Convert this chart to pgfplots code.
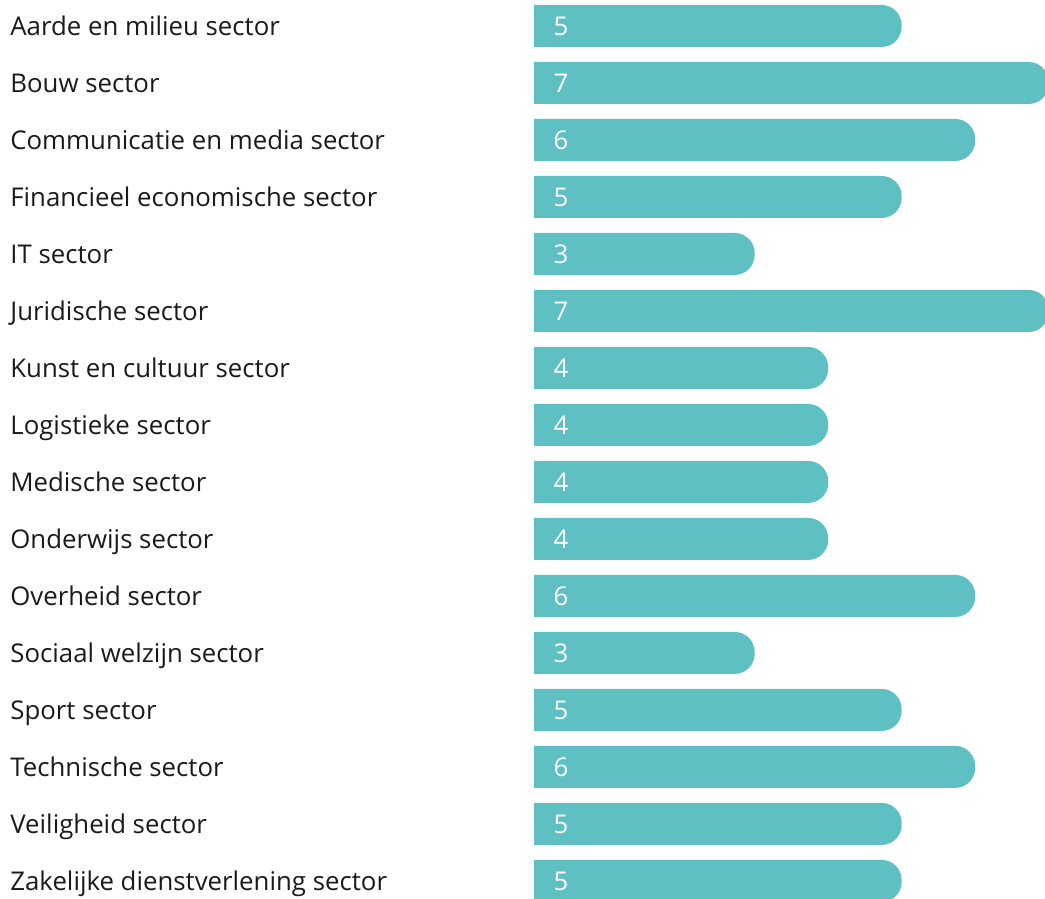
\documentclass[border=0pt]{standalone}
\usepackage{pgfplots}
\pgfplotsset{compat=1.18}
\usepackage{pgfplotstable}
\usepackage{fontspec}
\setmainfont{Open Sans}
\definecolor{barteal}{HTML}{5EC0C2}
\definecolor{labelgray}{HTML}{1A1A1A}

% idx = row from the top, v = count
\pgfplotstableread{
idx v
0 5
1 7
2 6
3 5
4 3
5 7
6 4
7 4
8 4
9 4
10 6
11 3
12 5
13 6
14 5
15 5
}\sectordata

\begin{document}
\begin{tikzpicture}
% bars are plotted at v+1 from 0; the first unit (with the rounded left end) is clipped away
\begin{scope}
\clip (-240pt,-10pt) rectangle (-10pt,460pt)
      (36.75pt,-10pt) rectangle (300pt,460pt);
\begin{axis}[at={(0,0)}, anchor=south west, scale only axis,
  width=292.2pt, height=449.5pt,
  xmin=0, xmax=7.95, ymin=-0.456, ymax=15.316, y dir=reverse,
  axis line style={draw=none}, major tick length=0pt, xtick=\empty,
  ytick={0,...,15},
  yticklabels={Aarde en milieu sector, Bouw sector, Communicatie en media sector,
    Financieel economische sector, IT sector, Juridische sector,
    Kunst en cultuur sector, Logistieke sector, Medische sector,
    Onderwijs sector, Overheid sector, Sociaal welzijn sector, Sport sector,
    Technische sector, Veiligheid sector, Zakelijke dienstverlening sector},
  yticklabel style={anchor=base west, inner sep=0pt, xshift=-225.35pt, yshift=-0.36em-1pt,
    font=\fontsize{12.9}{15}\selectfont, text=labelgray},
  /pgf/number format/assume math mode=true,
  clip=true]
\addplot[xbar, bar width=21pt, bar shift=0pt, fill=barteal, draw=none, rounded corners=10pt]
  table[x expr=\thisrow{v}+1, y=idx] {\sectordata};
\addplot[only marks, mark=*, mark size=0pt, mark options={draw=none, fill=none},
  point meta=explicit, nodes near coords,
  every node near coord/.append style={anchor=base west, inner sep=0pt, xshift=9.5pt,
    yshift=-0.36em-1pt, text=white, font=\fontsize{12.9}{15}\selectfont}]
  table[x expr=1, y=idx, meta=v] {\sectordata};
\end{axis}
\end{scope}
\pgfresetboundingbox
\path (-230.35pt,0pt) rectangle (292.2pt,449.5pt);
\end{tikzpicture}
\end{document}
